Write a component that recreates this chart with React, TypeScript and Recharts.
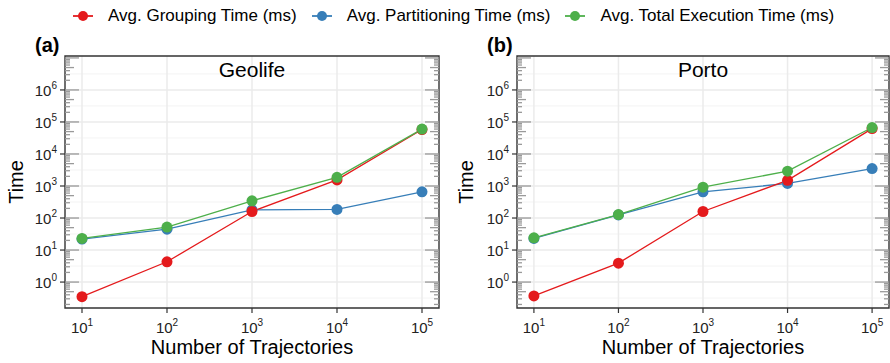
import React from "react";
import { CartesianGrid, Line, LineChart, ReferenceArea, XAxis, YAxis } from "recharts";

const FONT = '"Liberation Sans", Arial, Helvetica, sans-serif';
const RED = "#E41A1C";
const BLUE = "#377EB8";
const GREEN = "#4DAF4A";

// number of trajectories (x) and times in ms
const TRAJECTORIES = [10, 100, 1000, 10000, 100000];
const GEOLIFE_GROUPING = [0.35, 4.3, 160, 1550, 58000];
const GEOLIFE_PARTITIONING = [22, 45, 180, 185, 660];
const GEOLIFE_TOTAL = [23, 52, 345, 1870, 60000];
const PORTO_GROUPING = [0.37, 3.9, 160, 1500, 62000];
const PORTO_PARTITIONING = [23, 125, 660, 1200, 3500];
const PORTO_TOTAL = [24, 128, 920, 2900, 67000];

const Y_TICKS = [1, 10, 100, 1000, 10000, 100000, 1000000];
const Y_MINOR_GRID = [0.3162, 3.162, 31.62, 316.2, 3162, 31623, 316228, 3162278];
const DECADES = [0.1, 1, 10, 100, 1000, 10000, 100000, 1000000, 10000000];
const MULTS = [1, 2, 3, 4, 5, 6, 7, 8, 9];

const X_DOMAIN = [Math.pow(10, 0.8), Math.pow(10, 5.2)];
const Y_DOMAIN = [Math.pow(10, -0.81), Math.pow(10, 7.06)];

const LOG_TICKS = DECADES.flatMap((d) => MULTS.map((m) => m * d)).filter(
  (v) => v >= Y_DOMAIN[0] && v <= Y_DOMAIN[1]
);

const LEGEND = [
  { label: "Avg. Grouping Time (ms)", color: RED },
  { label: "Avg. Partitioning Time (ms)", color: BLUE },
  { label: "Avg. Total Execution Time (ms)", color: GREEN },
];

const PANEL_W = 445;
const PANEL_H = 363;
const X_AXIS_H = 55;
const PLOT_BOTTOM = PANEL_H - X_AXIS_H;
const TICK_LEN = 5;
const INK = "#333333";

function rows(grouping: number[], partitioning: number[], total: number[]) {
  return TRAJECTORIES.map((x, i) => ({
    x,
    grouping: grouping[i],
    partitioning: partitioning[i],
    total: total[i],
  }));
}

function exponent(v: number) {
  return Math.round(Math.log10(v));
}

function XTick(props: any) {
  const { x, y, payload } = props;
  return (
    <g>
      <line x1={x} x2={x} y1={PLOT_BOTTOM} y2={PLOT_BOTTOM + TICK_LEN} stroke={INK} strokeWidth={1.2} />
      <text x={x} y={y} dy={18} textAnchor="middle" fontSize={15} fill="#222" fontFamily={FONT}>
        <tspan>10</tspan>
        <tspan dy={-7} fontSize={10}>{exponent(payload.value)}</tspan>
      </text>
    </g>
  );
}

function YTick(props: any) {
  const { x, y, payload, left } = props;
  return (
    <g>
      <line x1={left - TICK_LEN} x2={left} y1={y} y2={y} stroke={INK} strokeWidth={1.2} />
      <text x={x} y={y} dy={6} textAnchor="end" fontSize={15} fill="#222" fontFamily={FONT}>
        <tspan>10</tspan>
        <tspan dy={-7} fontSize={10}>{exponent(payload.value)}</tspan>
      </text>
    </g>
  );
}

// annotation-style log ticks inside the panel, on both sides
function LogTick(props: any) {
  const { y, payload, left, right } = props;
  const v = payload.value;
  const m = Math.round(v / Math.pow(10, Math.floor(Math.log10(v) + 1e-9)));
  const len = m === 1 ? 14 : m === 5 ? 9 : 5;
  return (
    <g>
      <line x1={left} x2={left + len} y1={y} y2={y} stroke="#9a9a9a" strokeWidth={1.3} />
      <line x1={right - len} x2={right} y1={y} y2={y} stroke="#9a9a9a" strokeWidth={1.3} />
    </g>
  );
}

function Panel({
  title, data, yAxisWidth, marginRight, timeOffset,
}: {
  title: string;
  data: ReturnType<typeof rows>;
  yAxisWidth: number;
  marginRight: number;
  timeOffset: number;
}) {
  const plotLeft = yAxisWidth;
  const plotRight = PANEL_W - marginRight;
  const dot = (c: string) => ({ r: 5.5, fill: c, stroke: "none" });

  return (
    <LineChart
      width={PANEL_W}
      height={PANEL_H}
      data={data}
      margin={{ top: 55, right: marginRight - 1, bottom: 0, left: 0 }}
    >
      <CartesianGrid
        xAxisId="main" yAxisId="main"
        vertical={false}
        horizontalValues={Y_MINOR_GRID}
        stroke="#F0F0F0" strokeWidth={0.8}
      />
      <CartesianGrid
        xAxisId="main" yAxisId="main"
        horizontalValues={Y_TICKS}
        verticalValues={TRAJECTORIES}
        stroke="#EBEBEB" strokeWidth={1.5}
      />
      <XAxis
        xAxisId="main" dataKey="x" type="number" scale="log"
        domain={X_DOMAIN} allowDataOverflow
        ticks={TRAJECTORIES} interval={0} height={X_AXIS_H}
        stroke={INK} tick={XTick} tickSize={TICK_LEN}
        tickLine={false} axisLine={false}
        label={{
          value: "Number of Trajectories", position: "insideBottom", offset: 9,
          fontSize: 20, fill: "#000", fontFamily: FONT,
        }}
      />
      <XAxis
        xAxisId="top" orientation="top" type="number" scale="log"
        domain={X_DOMAIN} allowDataOverflow height={1}
        ticks={TRAJECTORIES} tick={false} tickLine={false} axisLine={false}
        label={{
          value: title, position: "bottom", offset: 6,
          fontSize: 21, fill: "#000", fontFamily: FONT,
        }}
      />
      <YAxis
        yAxisId="main" type="number" scale="log"
        domain={Y_DOMAIN} allowDataOverflow
        ticks={Y_TICKS} interval={0} width={yAxisWidth - 1}
        stroke={INK} tickSize={TICK_LEN}
        tick={(p: any) => <YTick {...p} left={plotLeft} />}
        tickLine={false} axisLine={false}
        label={{
          value: "Time", angle: -90, position: "insideLeft", offset: timeOffset,
          fontSize: 20, fill: "#000", fontFamily: FONT, style: { textAnchor: "middle" },
        }}
      />
      <YAxis
        yAxisId="logticks" type="number" scale="log"
        domain={Y_DOMAIN} allowDataOverflow
        ticks={LOG_TICKS} interval={0} width={1}
        axisLine={false} tickLine={false}
        tick={(p: any) => <LogTick {...p} left={plotLeft} right={plotRight} />}
      />
      <YAxis
        yAxisId="right" orientation="right" type="number" scale="log"
        domain={Y_DOMAIN} allowDataOverflow width={1}
        ticks={Y_TICKS} tick={false} tickLine={false} axisLine={false}
      />
      <Line
        xAxisId="main" yAxisId="main" dataKey="partitioning"
        stroke={BLUE} strokeWidth={1.3} dot={dot(BLUE)} activeDot={false}
        isAnimationActive={false}
      />
      <Line
        xAxisId="main" yAxisId="main" dataKey="grouping"
        stroke={RED} strokeWidth={1.3} dot={dot(RED)} activeDot={false}
        isAnimationActive={false}
      />
      <Line
        xAxisId="main" yAxisId="main" dataKey="total"
        stroke={GREEN} strokeWidth={1.3} dot={dot(GREEN)} activeDot={false}
        isAnimationActive={false}
      />
      {/* panel border */}
      <ReferenceArea
        xAxisId="main" yAxisId="main"
        x1={X_DOMAIN[0]} x2={X_DOMAIN[1]} y1={Y_DOMAIN[0]} y2={Y_DOMAIN[1]}
        fill="none" fillOpacity={0} stroke={INK} strokeWidth={1.4} ifOverflow="visible"
      />
    </LineChart>
  );
}

function Legend() {
  return (
    <div
      style={{
        position: "absolute", top: 6, left: 73, display: "flex", alignItems: "center",
        fontSize: 17, lineHeight: "20px", fontFamily: FONT, color: "#000", whiteSpace: "nowrap",
      }}
    >
      {LEGEND.map((item) => (
        <div key={item.label} style={{ display: "flex", alignItems: "center", marginRight: 15 }}>
          <svg width={20} height={12} style={{ marginRight: 15 }}>
            <line x1={0} x2={20} y1={6} y2={6} stroke={item.color} strokeWidth={1.8} />
            <circle cx={10} cy={6} r={5} fill={item.color} />
          </svg>
          <span>{item.label}</span>
        </div>
      ))}
    </div>
  );
}

const TAG_STYLE: React.CSSProperties = {
  position: "absolute", top: 35, fontSize: 20, lineHeight: "20px",
  fontWeight: "bold", fontFamily: FONT, color: "#000",
};

export default function App() {
  return (
    <div style={{ position: "absolute", left: 0, top: 0, width: 890, height: 363, background: "#fff" }}>
      <Legend />
      <div style={{ ...TAG_STYLE, left: 35 }}>(a)</div>
      <div style={{ ...TAG_STYLE, left: 487 }}>(b)</div>
      <div style={{ position: "absolute", left: 0, top: 0 }}>
        <Panel
          title="Geolife"
          data={rows(GEOLIFE_GROUPING, GEOLIFE_PARTITIONING, GEOLIFE_TOTAL)}
          yAxisWidth={65} marginRight={6} timeOffset={16}
        />
      </div>
      <div style={{ position: "absolute", left: 445, top: 0 }}>
        <Panel
          title="Porto"
          data={rows(PORTO_GROUPING, PORTO_PARTITIONING, PORTO_TOTAL)}
          yAxisWidth={72} marginRight={1} timeOffset={21}
        />
      </div>
    </div>
  );
}
